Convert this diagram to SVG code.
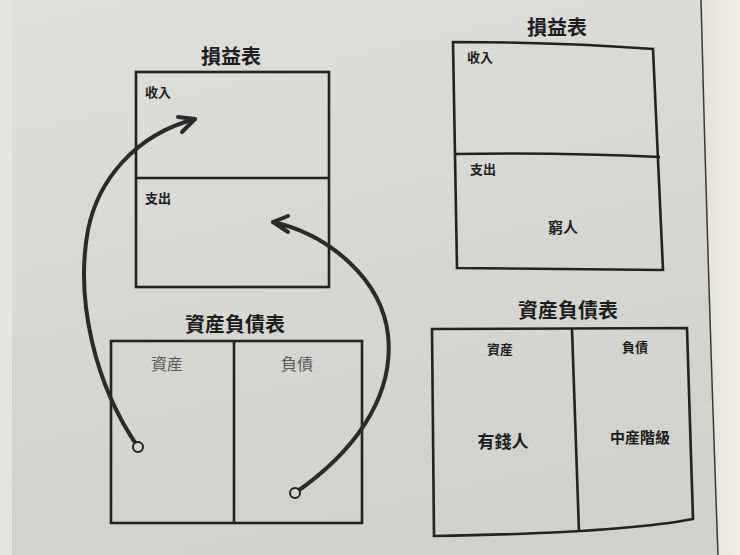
<svg xmlns="http://www.w3.org/2000/svg" width="740" height="555" viewBox="0 0 740 555">
  <defs>
    <linearGradient id="bg" x1="0" y1="0" x2="0.3" y2="1">
      <stop offset="0" stop-color="#dededb"/>
      <stop offset="1" stop-color="#d1d1ce"/>
    </linearGradient>
    <linearGradient id="edge" x1="0" y1="0" x2="1" y2="0">
      <stop offset="0" stop-color="#e2e1da"/>
      <stop offset="1" stop-color="#eeede6"/>
    </linearGradient>
    <style>
      .box{fill:none;stroke:#222;stroke-width:2.6;stroke-linejoin:miter}
      .title{font-family:"Noto Sans CJK TC","Noto Sans CJK SC",sans-serif;font-weight:bold;font-size:20px;fill:#1e1e1e;text-anchor:middle}
      .lbl{font-family:"Noto Sans CJK TC","Noto Sans CJK SC",sans-serif;font-weight:bold;font-size:13px;fill:#222}
      .glbl{font-family:"Noto Sans CJK TC","Noto Sans CJK SC",sans-serif;font-size:16px;fill:#5a5a5a;text-anchor:middle}
      .big{font-family:"Noto Sans CJK TC","Noto Sans CJK SC",sans-serif;font-weight:bold;font-size:16px;fill:#1e1e1e;text-anchor:middle}
      .arrow{fill:none;stroke:#2a2a2a;stroke-width:4;stroke-linecap:round;stroke-linejoin:round}
      .dot{fill:#d6d6d3;stroke:#222;stroke-width:2}
    </style>
  </defs>
  <rect width="740" height="555" fill="url(#bg)"/>
  <rect x="0" y="0" width="12" height="555" fill="#e4e4e2"/>
  <path d="M701,0 Q708,280 718,555 L740,555 L740,0 Z" fill="url(#edge)"/>
  <path d="M701,0 Q708,280 718,555" fill="none" stroke="#3a3a30" stroke-width="1.5"/>

  <g id="income-statement-left">
    <text class="title" x="231" y="64">損益表</text>
    <rect class="box" x="136" y="72" width="193" height="215"/>
    <line class="box" x1="136" y1="178" x2="329" y2="178"/>
    <text class="lbl" x="145" y="97">收入</text>
    <text class="lbl" x="145" y="203">支出</text>
  </g>

  <g id="balance-sheet-left">
    <text class="title" x="235" y="332">資産負債表</text>
    <rect class="box" x="111" y="341" width="251" height="182"/>
    <line class="box" x1="234" y1="341" x2="234" y2="523"/>
    <text class="glbl" x="167" y="370">資産</text>
    <text class="glbl" x="297" y="370">負債</text>
  </g>

  <g id="income-statement-right">
    <text class="title" x="557" y="35">損益表</text>
    <path class="box" d="M453,42 Q560,42 653,49 L663,270 L457,268 Z"/>
    <path class="box" d="M454,154 Q560,152 660,157"/>
    <text class="lbl" x="467" y="62">收入</text>
    <text class="lbl" x="470" y="174">支出</text>
    <text class="big" x="563" y="233" style="font-size:15px">窮人</text>
  </g>

  <g id="balance-sheet-right">
    <text class="title" x="568" y="318">資産負債表</text>
    <path class="box" d="M432,329 L687,328 L693,519 Q620,533 434,536 Z"/>
    <line class="box" x1="572" y1="329" x2="579" y2="532"/>
    <text class="big" x="500" y="354" style="font-size:13px">資産</text>
    <text class="big" x="635" y="352" style="font-size:13px">負債</text>
    <text class="big" x="503" y="448" style="font-size:17px">有錢人</text>
    <text class="big" x="640" y="443" style="font-size:15px">中産階級</text>
  </g>

  <g id="connectors">
    <path class="arrow" d="M138,447 C95,385 75,300 88,230 C98,180 135,135 195,119"/>
    <path class="arrow" d="M178,117 L195,119 L182,132"/>
    <circle class="dot" cx="138" cy="447" r="5"/>
    <path class="arrow" d="M295,493 C350,455 395,400 388,335 C382,280 330,235 273,222"/>
    <path class="arrow" d="M288,216 L273,222 L288,232"/>
    <circle class="dot" cx="295" cy="493" r="5"/>
  </g>
</svg>
